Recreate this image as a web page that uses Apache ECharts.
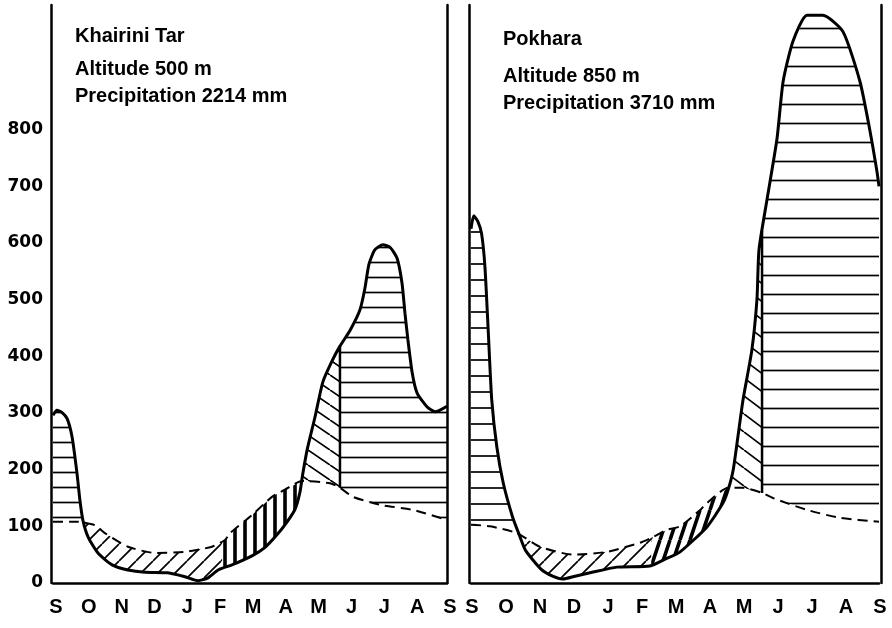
<!DOCTYPE html>
<html>
<head>
<meta charset="utf-8">
<script src="https://cdn.jsdelivr.net/npm/echarts@6/dist/echarts.min.js"></script>
<style>
  html, body { margin: 0; background: #fff; }
  #chart { width: 892px; height: 628px; }
</style>
</head>
<body>
<div id="chart"></div>
<script>
// month letters, Sept → Sept
const months = ['S', 'O', 'N', 'D', 'J', 'F', 'M', 'A', 'M', 'J', 'J', 'A', 'S']
const stations = ['Khairini Tar', 'Pokhara']
const altitudes = [500, 850]
const precipTotals = [2214, 3710]

// [month position, mm]
const khairiniRain = [
  [0, 296], [0.12, 305], [0.27, 301], [0.43, 290], [0.58, 258], [0.73, 194], [0.82, 146],
  [0.91, 111], [1.07, 81], [1.37, 53], [1.80, 32], [2.28, 23], [2.80, 19], [3.50, 18],
  [4.02, 11], [4.42, 4], [4.72, 9], [5.03, 23], [5.45, 32], [6.06, 48], [6.46, 63],
  [6.82, 85], [7.13, 108], [7.37, 130], [7.52, 160], [7.60, 190], [7.74, 235], [7.98, 293],
  [8.22, 355], [8.50, 392], [8.74, 418], [9.05, 446], [9.35, 482], [9.50, 520], [9.62, 562],
  [9.80, 588], [10.05, 597], [10.27, 592], [10.48, 573], [10.63, 529], [10.72, 476],
  [10.81, 429], [10.94, 371], [11.09, 335], [11.39, 311], [11.64, 302], [12, 312]
]
const khairiniTemp = [
  [0, 108], [0.76, 108], [1.28, 102], [1.58, 88], [2.28, 64], [3.11, 53], [4.02, 55],
  [4.84, 64], [5.24, 76], [5.39, 88], [6.06, 120], [6.67, 152], [7.07, 165], [7.58, 180],
  [8.44, 176], [8.74, 168], [9.14, 152], [9.96, 138], [10.97, 129], [12, 111]
]
const pokharaRain = [
  [0, 625], [0.08, 648], [0.20, 638], [0.31, 617], [0.41, 558], [0.51, 441], [0.61, 323],
  [0.76, 240], [0.95, 176], [1.22, 117], [1.40, 88], [1.60, 58], [2.05, 25], [2.40, 12],
  [2.70, 7], [3.06, 12], [3.50, 18], [4.29, 28], [5.26, 30], [5.71, 42], [6.15, 55],
  [6.94, 99], [7.41, 141], [7.56, 164], [7.71, 199], [7.85, 258], [8.00, 323], [8.26, 411],
  [8.41, 500], [8.47, 588], [8.71, 678], [9.00, 784], [9.18, 885], [9.47, 956], [9.88, 1002],
  [10.35, 1002], [10.94, 973], [11.44, 885], [11.74, 796], [11.94, 726], [12, 700]
]
const pokharaTemp = [
  [0, 103], [0.56, 100], [1.35, 88], [2.03, 64], [3.00, 50], [4.00, 55], [4.97, 71],
  [5.35, 81], [5.76, 94], [6.15, 100], [6.74, 129], [6.94, 141], [7.56, 168], [8.00, 168],
  [8.56, 159], [8.88, 150], [9.88, 129], [10.85, 115], [12, 108]
]

// season boundaries (month positions), kinds follow zoneKinds
const zoneKinds = ['wet', 'dry', 'predry', 'prewet', 'monsoon']
const khairiniZones = [[0, 0.94], [0.94, 5.15], [5.15, 7.57], [7.57, 8.74], [8.74, 12]]
const pokharaZones = [[0, 1.40], [1.40, 5.30], [5.30, 7.58], [7.58, 8.56], [8.56, 12]]

// hatch pattern tiles
function hatch(kind, w, h, lw) {
  const c = document.createElement('canvas')
  c.width = w; c.height = h
  const ctx = c.getContext('2d')
  ctx.strokeStyle = '#000'
  ctx.lineWidth = lw
  ctx.beginPath()
  if (kind === '-') {
    ctx.moveTo(0, h / 2); ctx.lineTo(w, h / 2)
  } else if (kind === '|') {
    ctx.moveTo(w / 2, 0); ctx.lineTo(w / 2, h)
  } else {
    for (let k = -1; k <= 1; k++) {
      if (kind === '/') { ctx.moveTo(k * w, h); ctx.lineTo(k * w + w, 0) }
      else { ctx.moveTo(k * w, 0); ctx.lineTo(k * w + w, h) }
    }
  }
  ctx.stroke()
  return { image: c, repeat: 'repeat' }
}

const khairiniHatch = {
  wet: hatch('-', 8, 15, 1.7),
  dry: hatch('/', 17, 17, 1.7),
  predry: hatch('|', 10, 8, 3.6),
  prewet: hatch('\\', 22, 15, 1.7),
  monsoon: hatch('-', 8, 15, 1.7)
}
const pokharaHatch = {
  wet: hatch('-', 8, 16, 1.7),
  dry: hatch('/', 17, 17, 1.7),
  predry: hatch('/', 10, 30, 3.6),
  prewet: hatch('\\', 24, 18, 1.7),
  monsoon: hatch('-', 8, 19, 1.7)
}

function at(arr, m) {
  for (let i = 0; i < arr.length - 1; i++) {
    const p = arr[i], q = arr[i + 1]
    if (m >= p[0] && m <= q[0]) {
      const t = q[0] === p[0] ? 0 : (m - p[0]) / (q[0] - p[0])
      return p[1] + t * (q[1] - p[1])
    }
  }
  return arr[arr.length - 1][1]
}

function stretch(arr, a, b) {
  const mid = arr.filter(p => p[0] > a && p[0] < b)
  return [[a, at(arr, a)]].concat(mid, [[b, at(arr, b)]])
}

function zoneRenderer(rain, temp, zones, pats) {
  return function (params, api) {
    const i = params.dataIndex
    const a = zones[i][0], b = zones[i][1]
    const kind = zoneKinds[i]
    const pts = stretch(rain, a, b).concat(stretch(temp, a, b).reverse()).map(p => api.coord(p))
    const children = [{ type: 'polygon', shape: { points: pts }, style: { fill: pats[kind] } }]
    if (kind === 'prewet') {
      const p1 = api.coord([b, at(temp, b)]), p2 = api.coord([b, at(rain, b)])
      children.push({
        type: 'line',
        shape: { x1: p1[0], y1: p1[1], x2: p2[0], y2: p2[1] },
        style: { stroke: '#000', lineWidth: 2.5 }
      })
    }
    return { type: 'group', children }
  }
}

const black = '#000'
const labelFont = 'Liberation Sans'

function xAx(idx, pad) {
  return {
    type: 'value', gridIndex: idx, min: 0, max: 12, interval: 1,
    axisLine: { onZero: false, lineStyle: { color: black, width: 2.5 } },
    axisTick: { show: false },
    splitLine: { show: false },
    axisLabel: {
      formatter: v => months[v], color: black, fontFamily: labelFont, fontWeight: 'bold',
      fontSize: 20, margin: 14, padding: [0, 0, 0, pad]
    }
  }
}

function yAx(idx, pos, labels, offset) {
  return {
    type: 'value', gridIndex: idx, position: pos, offset: offset,
    min: 0, max: 1020, interval: 100,
    axisLine: { show: true, onZero: false, lineStyle: { color: black, width: 2.5 } },
    axisTick: { show: false },
    splitLine: { show: false },
    axisLabel: {
      show: labels, formatter: v => (v <= 800 ? String(v) : ''), color: black,
      fontFamily: 'DejaVu Sans', fontWeight: 'bold', fontSize: 17, margin: 8
    }
  }
}

const titleStyle = { fontFamily: labelFont, fontWeight: 'bold', fontSize: 20, color: black, lineHeight: 20 }
function head(text, left, top) {
  return { text: text, left: left, top: top, padding: 0, textStyle: titleStyle }
}

function lineSeries(data, xi, yi, dashed) {
  return {
    type: 'line', xAxisIndex: xi, yAxisIndex: yi, data: data,
    showSymbol: false, smooth: 0.2, silent: true, z: 3,
    lineStyle: dashed ? { color: black, width: 2, type: [10, 6] } : { color: black, width: 3 }
  }
}

const chart = echarts.init(document.getElementById('chart'))
chart.setOption({
  animation: false,
  backgroundColor: '#fff',
  title: [
    head(stations[0], 75, 26),
    head('Altitude ' + altitudes[0] + ' m', 75, 59),
    head('Precipitation ' + precipTotals[0] + ' mm', 75, 86),
    head(stations[1], 503, 29),
    head('Altitude ' + altitudes[1] + ' m', 503, 66),
    head('Precipitation ' + precipTotals[1] + ' mm', 503, 93)
  ],
  grid: [
    { left: 53, top: 5, width: 394, height: 578 },
    { left: 471, top: 5, width: 408, height: 578 }
  ],
  xAxis: [xAx(0, 6), xAx(1, 2)],
  yAxis: [
    yAx(0, 'left', true, 2),
    yAx(0, 'right', false, 0),
    yAx(1, 'left', false, 2),
    yAx(1, 'right', false, 2)
  ],
  series: [
    {
      type: 'custom', coordinateSystem: 'cartesian2d', xAxisIndex: 0, yAxisIndex: 0,
      data: khairiniZones, renderItem: zoneRenderer(khairiniRain, khairiniTemp, khairiniZones, khairiniHatch),
      silent: true, z: 1
    },
    {
      type: 'custom', coordinateSystem: 'cartesian2d', xAxisIndex: 1, yAxisIndex: 2,
      data: pokharaZones, renderItem: zoneRenderer(pokharaRain, pokharaTemp, pokharaZones, pokharaHatch),
      silent: true, z: 1
    },
    lineSeries(khairiniTemp, 0, 0, true),
    lineSeries(khairiniRain, 0, 0, false),
    lineSeries(pokharaTemp, 1, 2, true),
    lineSeries(pokharaRain, 1, 2, false)
  ]
})
</script>
</body>
</html>
